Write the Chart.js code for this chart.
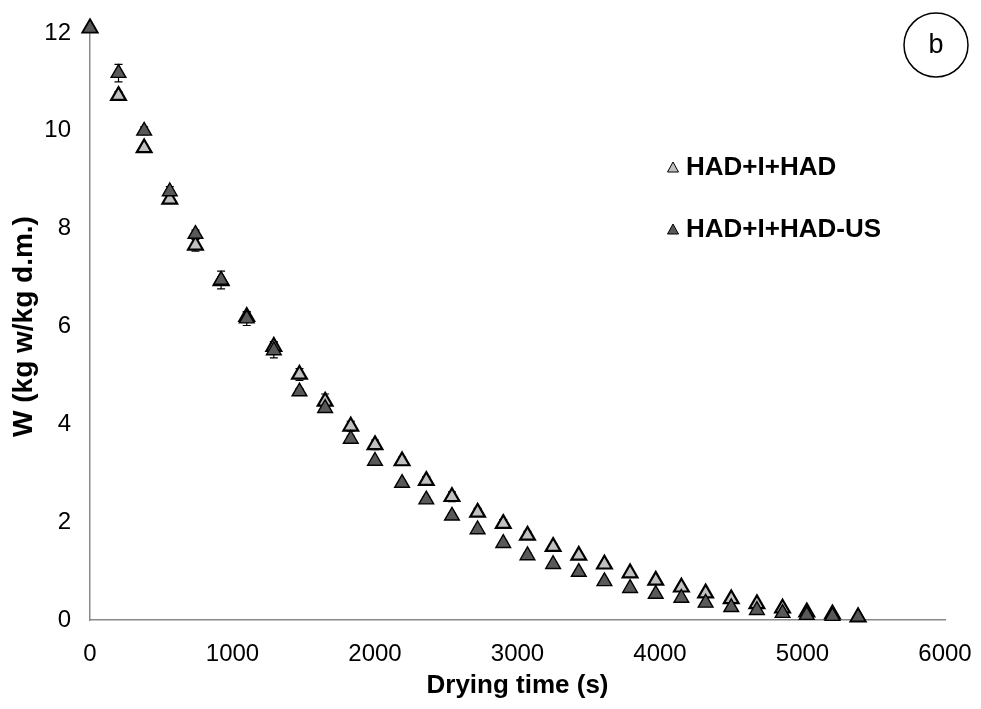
<!DOCTYPE html>
<html lang="en">
<head>
<meta charset="UTF-8">
<title>Drying curves b</title>
<script src="https://cdn.jsdelivr.net/npm/chart.js"></script>
<style>
    body { margin: 0; padding: 0; background: #ffffff; }
    .box { position: relative; width: 981px; height: 709px; }
</style>
</head>
<body>
<div class="box">
    <canvas id="dryChart" width="981" height="709"></canvas>
</div>
<script>
// drying time (s)
var dryingTime = [0, 200, 380, 560, 740, 920, 1100, 1290, 1470, 1650, 1830, 2000, 2190, 2360, 2540,
    2720, 2900, 3070, 3250, 3430, 3610, 3790, 3970, 4150, 4320, 4500, 4680, 4860, 5030, 5210, 5390];

// W (kg w/kg d.m.)
var wHad = [12.1, 10.72, 9.65, 8.6, 7.66, 6.93, 6.2, 5.59, 5.02, 4.47, 3.96, 3.58, 3.25, 2.85, 2.52,
    2.2, 1.97, 1.73, 1.5, 1.32, 1.14, 0.96, 0.81, 0.67, 0.55, 0.43, 0.33, 0.24, 0.16, 0.12, 0.06];
var wHadUs = [12.1, 11.18, 10.0, 8.76, 7.89, 6.95, 6.16, 5.51, 4.67, 4.33, 3.7, 3.25, 2.8, 2.46, 2.13,
    1.85, 1.57, 1.32, 1.14, 0.98, 0.79, 0.65, 0.53, 0.45, 0.35, 0.26, 0.2, 0.14, 0.1, 0.08, 0.06];

// standard deviations
var sdHad = [0.05, 0.08, 0.06, 0.06, 0.12, 0.08, 0.1, 0.1, 0.12, 0.15, 0.1, 0.1, 0.08, 0.08, 0.1,
    0.08, 0.08, 0.08, 0.06, 0.06, 0.06, 0.05, 0.05, 0.05, 0.05, 0.05, 0.05, 0.04, 0.04, 0.03, 0.03];
var sdHadUs = [0.05, 0.18, 0.08, 0.1, 0.08, 0.18, 0.14, 0.15, 0.06, 0.06, 0.06, 0.05, 0.05, 0.05, 0.05,
    0.05, 0.05, 0.05, 0.04, 0.04, 0.04, 0.04, 0.04, 0.04, 0.03, 0.03, 0.03, 0.03, 0.03, 0.03, 0.03];

var seriesNames = ['HAD+I+HAD', 'HAD+I+HAD-US'];
var xTicks = [0, 1000, 2000, 3000, 4000, 5000, 6000];
var yTicks = [0, 2, 4, 6, 8, 10, 12];

var lightFill = '#c0c0c0';
var darkFill = '#595959';
var axisGrey = '#898989';
var fontFam = '"Liberation Sans", Arial, sans-serif';

function toPoints(xs, ys) {
    var pts = [];
    for (var i = 0; i < xs.length; i++) pts.push({x: xs[i], y: ys[i]});
    return pts;
}

// error bars drawn under the markers
var errorBars = {
    id: 'errorBars',
    beforeDatasetsDraw: function(chart) {
        var ctx = chart.ctx;
        var xs = chart.scales.x, ys = chart.scales.y;
        var sds = [sdHad, sdHadUs];
        ctx.save();
        ctx.strokeStyle = '#000000';
        ctx.lineWidth = 1.2;
        chart.data.datasets.forEach(function(ds, d) {
            ds.data.forEach(function(p, i) {
                var px = xs.getPixelForValue(p.x);
                var top = ys.getPixelForValue(p.y + sds[d][i]);
                var bot = ys.getPixelForValue(p.y - sds[d][i]);
                ctx.beginPath();
                ctx.moveTo(px, top); ctx.lineTo(px, bot);
                ctx.moveTo(px - 4, top); ctx.lineTo(px + 4, top);
                ctx.moveTo(px - 4, bot); ctx.lineTo(px + 4, bot);
                ctx.stroke();
            });
        });
        ctx.restore();
    }
};

// legend on the right and the "b" label
var extras = {
    id: 'extras',
    afterDraw: function(chart) {
        var ctx = chart.ctx;
        var fills = [lightFill, darkFill];
        ctx.save();
        ctx.font = 'bold 26px ' + fontFam;
        ctx.textBaseline = 'middle';
        ctx.textAlign = 'left';
        for (var i = 0; i < seriesNames.length; i++) {
            var cy = 168 + i * 62;
            ctx.fillStyle = fills[i];
            ctx.strokeStyle = '#000000';
            ctx.lineWidth = 1;
            ctx.beginPath();
            ctx.moveTo(673, cy - 6);
            ctx.lineTo(678.5, cy + 4);
            ctx.lineTo(667.5, cy + 4);
            ctx.closePath();
            ctx.fill();
            ctx.stroke();
            ctx.fillStyle = '#000000';
            ctx.fillText(seriesNames[i], 686, cy);
        }
        ctx.beginPath();
        ctx.lineWidth = 1.5;
        ctx.strokeStyle = '#000000';
        ctx.arc(936, 45, 32, 0, Math.PI * 2);
        ctx.stroke();
        ctx.font = '27px ' + fontFam;
        ctx.textAlign = 'center';
        ctx.fillText('b', 936, 46);
        ctx.restore();
    }
};

var ctx = document.getElementById('dryChart').getContext('2d');
new Chart(ctx, {
    type: 'scatter',
    data: {
        datasets: [{
            label: seriesNames[0],
            data: toPoints(dryingTime, wHad),
            pointStyle: 'triangle',
            pointRadius: 8.5,
            pointHoverRadius: 8.5,
            backgroundColor: lightFill,
            borderColor: '#000000',
            borderWidth: 2.2,
            clip: false,
            order: 2
        }, {
            label: seriesNames[1],
            data: toPoints(dryingTime, wHadUs),
            pointStyle: 'triangle',
            pointRadius: 8.5,
            pointHoverRadius: 8.5,
            backgroundColor: darkFill,
            borderColor: '#000000',
            borderWidth: 1.4,
            clip: false,
            order: 1
        }]
    },
    options: {
        responsive: false,
        animation: false,
        events: [],
        layout: { padding: { top: 33, right: 36, left: 0, bottom: 0 } },
        plugins: {
            legend: { display: false },
            tooltip: { enabled: false }
        },
        scales: {
            x: {
                type: 'linear',
                min: 0,
                max: 6000,
                afterBuildTicks: function(scale) {
                    scale.ticks = xTicks.map(function(v) { return {value: v}; });
                },
                afterFit: function(scale) {
                    scale.height = 89;
                    scale.paddingLeft = 0;
                    scale.paddingRight = 0;
                },
                grid: { display: false, drawTicks: false },
                border: { display: true, color: axisGrey, width: 1.5 },
                ticks: {
                    color: '#000000',
                    padding: 20,
                    maxRotation: 0,
                    callback: function(v) { return String(v); },
                    font: { family: fontFam, size: 24 }
                },
                title: {
                    display: true,
                    text: 'Drying time (s)',
                    color: '#000000',
                    padding: { top: 0, bottom: 8 },
                    font: { family: fontFam, size: 26, weight: 'bold' }
                }
            },
            y: {
                type: 'linear',
                min: 0,
                max: 12,
                afterBuildTicks: function(scale) {
                    scale.ticks = yTicks.map(function(v) { return {value: v}; });
                },
                afterFit: function(scale) {
                    scale.width = 90;
                    scale.paddingTop = 0;
                    scale.paddingBottom = 0;
                },
                grid: { display: false, drawTicks: false },
                border: { display: true, color: axisGrey, width: 1.5 },
                ticks: {
                    color: '#000000',
                    padding: 19,
                    callback: function(v) { return String(v); },
                    font: { family: fontFam, size: 24 }
                },
                title: {
                    display: true,
                    text: 'W (kg w/kg d.m.)',
                    color: '#000000',
                    padding: { top: 7, bottom: 0 },
                    font: { family: fontFam, size: 28, weight: 'bold' }
                }
            }
        }
    },
    plugins: [errorBars, extras]
});
</script>
</body>
</html>
